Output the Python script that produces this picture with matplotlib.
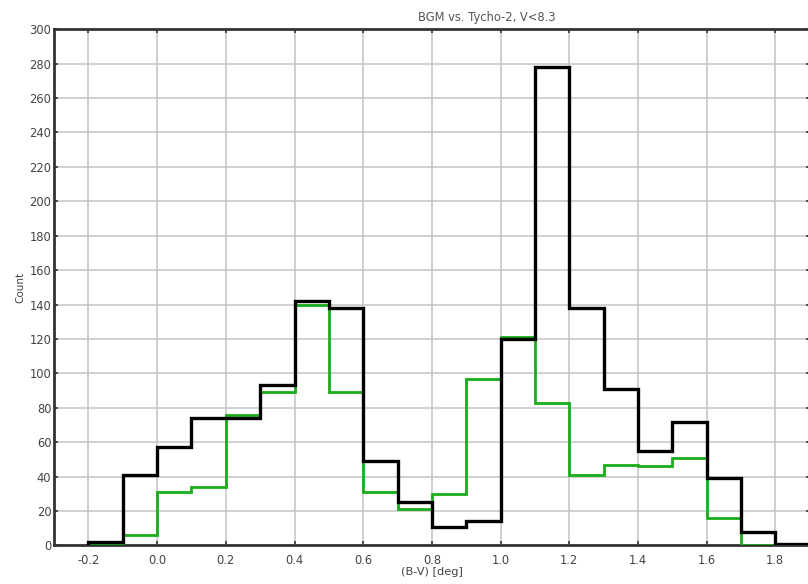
import numpy as np
import matplotlib
matplotlib.use("Agg")
import matplotlib.pyplot as plt

# B-V histogram, bins of 0.1 from -0.2 to 1.9
bin_edges = [-0.2, -0.1, 0.0, 0.1, 0.2, 0.3, 0.4, 0.5, 0.6, 0.7, 0.8,
             0.9, 1.0, 1.1, 1.2, 1.3, 1.4, 1.5, 1.6, 1.7, 1.8, 1.9]
bgm_counts = [2, 41, 57, 74, 74, 93, 142, 138, 49, 25, 11,
              14, 120, 278, 138, 91, 55, 72, 39, 8, 1]
tycho_counts = [0, 6, 31, 34, 76, 89, 140, 89, 31, 21, 30,
                97, 121, 83, 41, 47, 46, 51, 16, 0, 0]

x_ticks = [-0.2, 0.0, 0.2, 0.4, 0.6, 0.8, 1.0, 1.2, 1.4, 1.6, 1.8]
y_ticks = list(range(0, 301, 20))

fig = plt.figure(figsize=(8.08, 5.84), dpi=100)
ax = fig.add_axes([0.067, 0.066, 0.935, 0.884])

ax.stairs(tycho_counts, bin_edges, color="#1aad1a", linewidth=2.0, zorder=3)
ax.stairs(bgm_counts, bin_edges, color="black", linewidth=2.4, zorder=4)

ax.set_xlim(-0.3, 1.9)
ax.set_ylim(0, 300)
ax.set_xticks(x_ticks)
ax.set_xticklabels(["%.1f" % t for t in x_ticks])
ax.set_yticks(y_ticks)

ax.grid(True, color="#c4c4c4", linewidth=1.1)
ax.set_axisbelow(True)
ax.tick_params(direction="in", length=3, width=1.2, labelsize=8.3,
               top=True, right=True, colors="#333333", labelcolor="#444444")
ax.tick_params(axis="x", pad=6)
ax.tick_params(axis="y", pad=2)
for s in ax.spines.values():
    s.set_linewidth(2.0)
    s.set_color("#333333")

ax.set_title("BGM vs. Tycho-2, V<8.3", fontsize=8.3, color="#555555",
             pad=6, x=0.573)
ax.set_xlabel("(B-V) [deg]", fontsize=8.2, color="#444444", labelpad=0)
ax.set_ylabel("Count", fontsize=7.5, color="#444444", labelpad=3)

fig.savefig("out.png", dpi=100)
